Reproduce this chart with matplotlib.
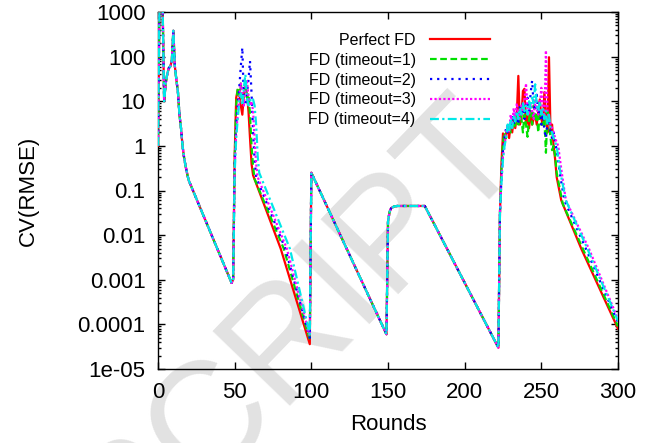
import matplotlib
matplotlib.use("Agg")
import matplotlib.pyplot as plt
from matplotlib.ticker import FixedLocator, FixedFormatter, LogLocator, NullFormatter

plt.rcParams['font.family'] = ['Liberation Sans', 'DejaVu Sans']

# ---- data ----
# shared start: rounds 0..48
rounds_start = [0, 1, 2, 3, 4, 5, 6, 7, 8, 9, 10, 11, 12, 13, 14, 15, 16, 17, 18, 19, 20, 48]
cv_start = [1.0, 2000, 3000, 1500, 10, 25, 40, 55, 60, 80, 380, 60, 30, 16, 5, 2.5, 1.0, 0.55, 0.35, 0.24, 0.17, 0.00085]

# shared middle: rounds 100..222
rounds_mid = [100, 149, 150, 151, 152, 154, 156, 174, 222]
cv_mid = [0.25, 6e-05, 0.02, 0.033, 0.04, 0.044, 0.045, 0.045, 3e-05]

# first burst + decay (rounds 49..99), one per series
rounds_b1_perfect = [49, 50, 51, 52, 53, 54, 55, 56, 57, 58, 59, 60, 61, 62, 80, 99]
cv_b1_perfect = [0.001, 0.6, 12, 18, 15, 8, 5, 14, 21, 15, 6, 1.5, 0.4, 0.22, 0.005, 3.6e-05]
rounds_b1_t1 = [49, 50, 51, 52, 53, 54, 55, 56, 57, 58, 59, 60, 61, 62, 63, 82, 99]
cv_b1_t1 = [0.001, 0.5, 8, 20, 12, 25, 10, 15, 20, 12, 15, 5, 1.0, 0.35, 0.18, 0.005, 4.5e-05]
rounds_b1_t2 = [49, 50, 51, 52, 53, 54, 55, 56, 57, 58, 59, 60, 61, 62, 63, 64, 83, 99]
cv_b1_t2 = [0.001, 0.4, 3, 8, 20, 60, 160, 10, 8, 15, 30, 80, 15, 2, 0.5, 0.2, 0.005, 5e-05]
rounds_b1_t3 = [49, 50, 51, 52, 53, 54, 55, 56, 57, 58, 59, 60, 61, 62, 63, 64, 65, 84, 99]
cv_b1_t3 = [0.001, 0.3, 2, 5, 12, 25, 15, 8, 20, 30, 12, 8, 10, 6, 1.5, 0.4, 0.2, 0.005, 5.5e-05]
rounds_b1_t4 = [49, 50, 51, 52, 53, 54, 55, 56, 57, 58, 59, 60, 61, 62, 63, 64, 65, 66, 86, 99]
cv_b1_t4 = [0.001, 0.25, 1.5, 4, 10, 15, 8, 20, 40, 12, 8, 10, 12, 11, 8, 3, 0.6, 0.25, 0.005, 6e-05]

# second burst (rounds 223..259) + decay to round 300
rounds_b2 = list(range(223, 260))
cv_b2_perfect = [0.03, 0.4, 1.9, 1.2, 1.9, 2.5, 1.5, 3, 2, 4, 2.5, 5, 37, 3, 4, 17, 19, 3, 5, 2.5,
                 6, 3, 4, 5, 3, 6, 11, 4, 3, 16, 5, 2, 97, 2, 3, 1.0, 0.5]
cv_b2_t1 = [0.03, 0.3, 1.2, 2, 1.5, 2.5, 3, 2, 4, 2.5, 3, 5, 3, 6, 4, 2, 5, 3, 1.6, 4,
            6, 3, 8, 4, 5, 2, 6, 3, 3, 4, 0.7, 6, 3, 1.5, 0.8, 1.0, 0.6]
cv_b2_t2 = [0.03, 0.2, 0.8, 1.5, 2.5, 2, 3.5, 2.5, 5, 3, 6, 4, 3, 8, 5, 10, 4, 6, 12, 5,
            15, 29, 8, 6, 14, 5, 7, 3, 5, 2.2, 1.5, 3, 4, 2, 1.5, 2.0, 1.2]
cv_b2_t3 = [0.03, 0.2, 0.6, 1.0, 2, 3, 2, 5, 3, 7, 4, 9, 5, 4, 8, 6, 10, 25, 7, 5,
            9, 6, 4, 10, 7, 5, 8, 20, 6, 4, 137, 6, 4, 3, 2.5, 2.0, 1.5]
cv_b2_t4 = [0.03, 0.15, 0.5, 1.0, 1.5, 3, 2, 4, 2.5, 5, 3.5, 6, 4, 7, 5, 9, 6, 8, 5, 10,
            7, 12, 9, 24, 8, 6, 10, 5, 7, 4, 6, 3, 5, 2.5, 2, 1.5, 1.2]

rounds_tail_perfect = [260, 263, 276, 300]
cv_tail_perfect = [0.2, 0.06, 0.005, 8e-05]
rounds_tail_t1 = [260, 264, 277, 300]
cv_tail_t1 = [0.25, 0.05, 0.005, 9e-05]
rounds_tail_t2 = [260, 262, 265, 279, 300]
cv_tail_t2 = [0.8, 0.25, 0.06, 0.005, 1.1e-04]
rounds_tail_t3 = [260, 261, 263, 266, 281, 300]
cv_tail_t3 = [1.2, 1.0, 0.3, 0.06, 0.005, 1.3e-04]
rounds_tail_t4 = [260, 262, 266, 280, 300]
cv_tail_t4 = [1.0, 0.3, 0.06, 0.005, 1.2e-04]

labels = ['Perfect FD', 'FD (timeout=1)', 'FD (timeout=2)', 'FD (timeout=3)', 'FD (timeout=4)']
colors = ['#ff0000', '#00e000', '#0000ff', '#ff00ff', '#00e8e8']
dashes = [None, (3, 1.6), (1, 2.2), (1, 1), (4, 1.5, 1, 1.5)]

b1 = [(rounds_b1_perfect, cv_b1_perfect), (rounds_b1_t1, cv_b1_t1), (rounds_b1_t2, cv_b1_t2),
      (rounds_b1_t3, cv_b1_t3), (rounds_b1_t4, cv_b1_t4)]
b2 = [cv_b2_perfect, cv_b2_t1, cv_b2_t2, cv_b2_t3, cv_b2_t4]
tails = [(rounds_tail_perfect, cv_tail_perfect), (rounds_tail_t1, cv_tail_t1),
         (rounds_tail_t2, cv_tail_t2), (rounds_tail_t3, cv_tail_t3), (rounds_tail_t4, cv_tail_t4)]

fig = plt.figure(figsize=(6.55, 4.43), dpi=100)
ax = fig.add_axes([158 / 655, 1 - 369 / 443, 460 / 655, 357 / 443])
ax.patch.set_alpha(0)

# watermark
fig.text(130 / 655, 1 - 565 / 443, 'SCRIPT', fontsize=112, color='#e2e2e2',
         rotation=46, rotation_mode='anchor', ha='left', va='baseline', zorder=-5)

for i in range(5):
    xs = rounds_start + b1[i][0] + rounds_mid + rounds_b2 + tails[i][0]
    ys = cv_start + b1[i][1] + cv_mid + b2[i] + tails[i][1]
    line, = ax.plot(xs, ys, color=colors[i], lw=1.6, label=labels[i], zorder=3 + i)
    if dashes[i] is not None:
        line.set_dashes(dashes[i])

ax.set_yscale('log')
ax.set_xlim(0, 300)
ax.set_ylim(1e-5, 1000)

yticks = [1e-5, 1e-4, 1e-3, 1e-2, 1e-1, 1, 10, 100, 1000]
ylabels = ['1e-05', '0.0001', '0.001', '0.01', '0.1', '1', '10', '100', '1000']
ax.yaxis.set_major_locator(FixedLocator(yticks))
ax.yaxis.set_major_formatter(FixedFormatter(ylabels))
ax.yaxis.set_minor_locator(LogLocator(base=10, subs=[2, 3, 4, 5, 6, 7, 8, 9]))
ax.yaxis.set_minor_formatter(NullFormatter())
ax.set_xticks([0, 50, 100, 150, 200, 250, 300])

ax.tick_params(which='both', direction='in', top=True, right=True, width=1)
ax.tick_params(which='major', length=5, labelsize=16, pad=9)
ax.tick_params(which='minor', length=2.5)
for s in ax.spines.values():
    s.set_linewidth(1.0)

ax.set_xlabel('Rounds', fontsize=16)
ax.set_ylabel('CV(RMSE)', fontsize=16)
ax.xaxis.set_label_coords(0.5, -0.125)
ax.yaxis.set_label_coords(-0.26, 0.5)

ax.legend(loc='upper right', bbox_to_anchor=(490 / 655, 1 - 33 / 443),
          bbox_transform=fig.transFigure, frameon=False, markerfirst=False,
          fontsize=11.5, handlelength=3.75, handletextpad=0.9, labelspacing=0.3,
          borderpad=0, borderaxespad=0)

fig.savefig('out.png', dpi=100)
